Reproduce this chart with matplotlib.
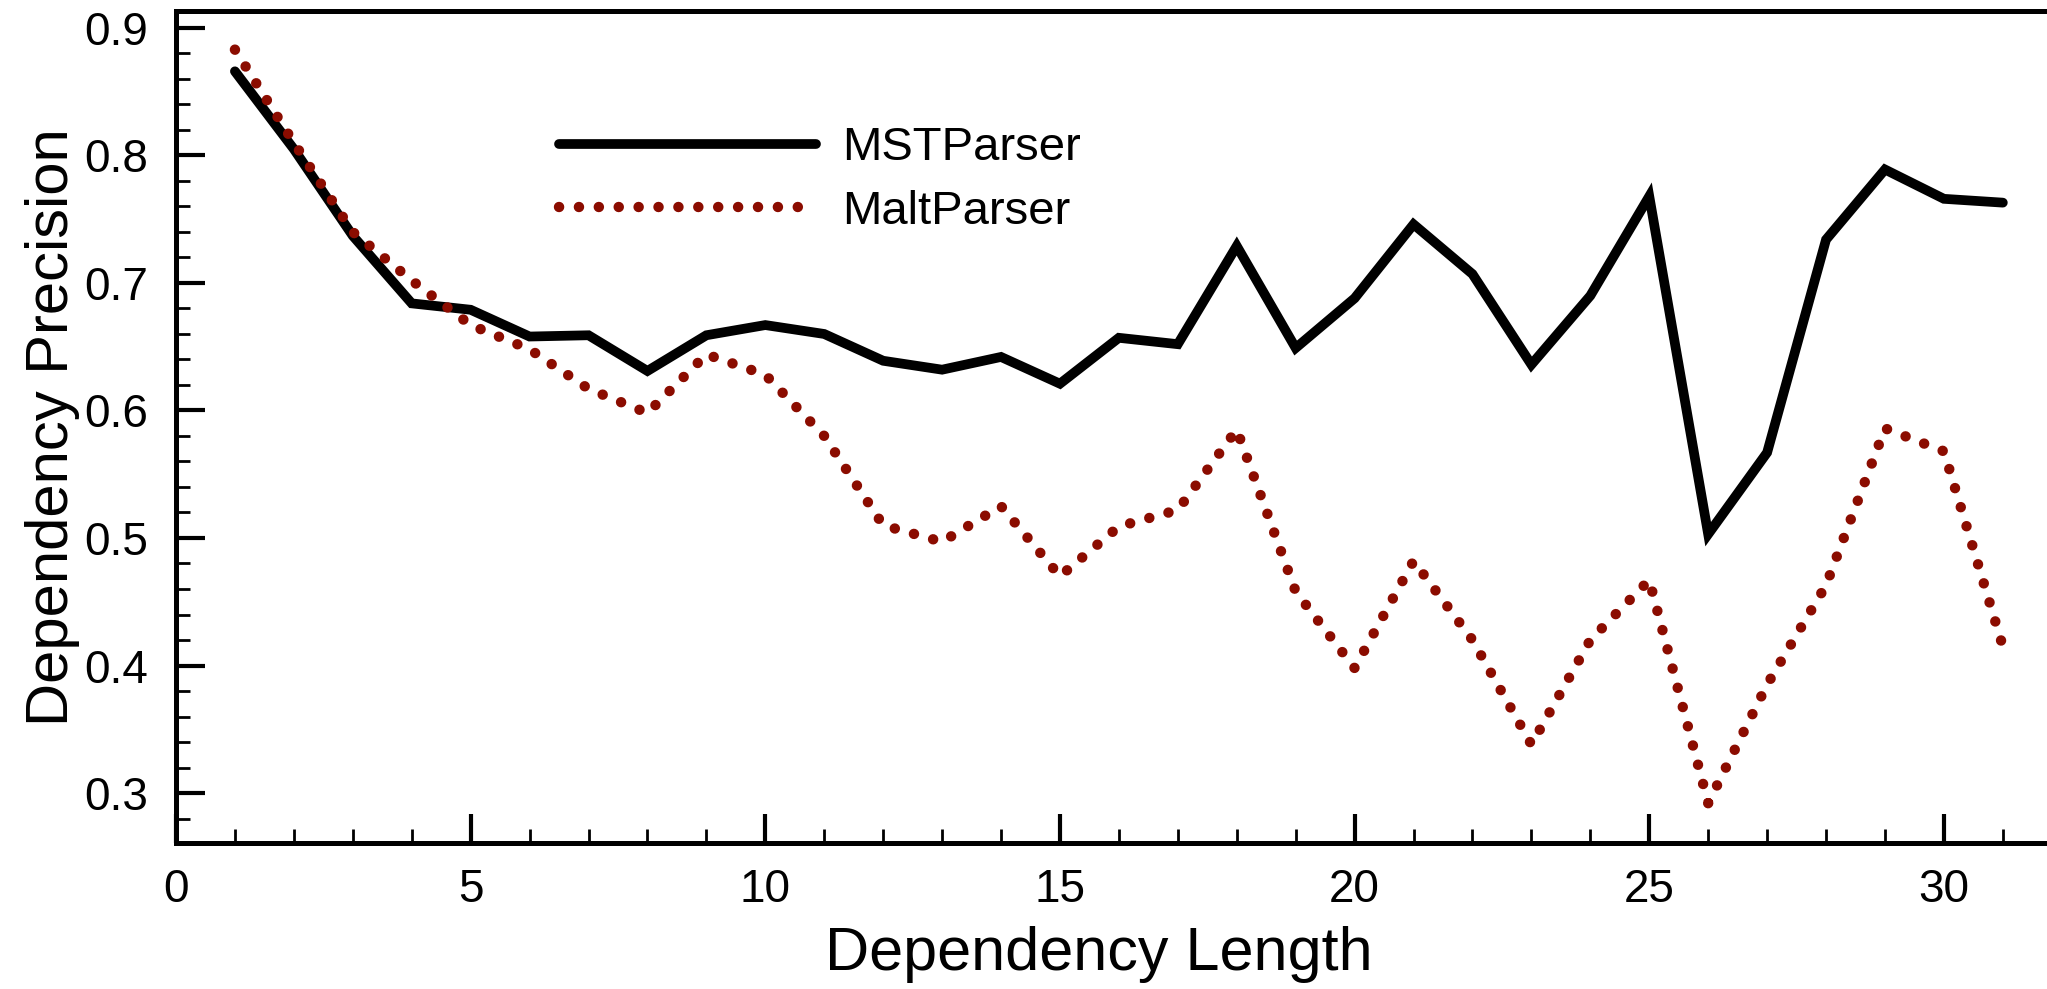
import matplotlib.pyplot as plt
import numpy as np

plt.rcParams["font.family"] = ["Liberation Sans", "DejaVu Sans"]

# dependency length 1..31
lengths = np.arange(1, 32)
mst = [0.866, 0.805, 0.737, 0.684, 0.679, 0.658, 0.659, 0.631, 0.659, 0.667,
       0.660, 0.639, 0.632, 0.642, 0.621, 0.657, 0.652, 0.729, 0.649, 0.688,
       0.746, 0.707, 0.636, 0.690, 0.768, 0.503, 0.567, 0.734, 0.789, 0.766,
       0.763]
malt = [0.883, 0.810, 0.740, 0.702, 0.667, 0.648, 0.617, 0.598, 0.644, 0.628,
        0.580, 0.510, 0.497, 0.525, 0.470, 0.509, 0.522, 0.585, 0.458, 0.398,
        0.482, 0.420, 0.338, 0.420, 0.467, 0.292, 0.385, 0.463, 0.586, 0.568,
        0.415]

fig = plt.figure(figsize=(20.47, 9.89), dpi=100)
# axes runs past the right edge (the right spine is cut off in the original)
ax = fig.add_axes([176 / 2047, 1 - 843 / 989, 32 * 58.93 / 2047, 832 / 989])

ax.plot(lengths, mst, color="black", linewidth=7, solid_capstyle="round",
        solid_joinstyle="miter", label="MSTParser")
ax.plot(lengths, malt, color="#8b0c00", linewidth=7.5, linestyle=(0, (0.01, 1.9)),
        dash_capstyle="round", label="MaltParser")

ax.set_xlim(0, 32)
ax.set_ylim(0.2608, 0.9133)
ax.set_xticks(np.arange(0, 35, 5))
ax.set_xticks(np.arange(0, 33, 1), minor=True)
ax.set_yticks([0.3, 0.4, 0.5, 0.6, 0.7, 0.8, 0.9])
ax.set_yticks(np.arange(0.28, 0.92, 0.02), minor=True)
ax.yaxis.set_major_formatter(plt.FuncFormatter(lambda v, p: f"{v:.1f}"))

for s in ax.spines.values():
    s.set_linewidth(3.6)
ax.spines["right"].set_visible(False)

ax.tick_params(which="major", direction="in", length=21, width=3.0,
               labelsize=33, pad=18)
ax.tick_params(which="minor", direction="in", length=10, width=2.0)
ax.tick_params(axis="y", which="major", pad=20)

ax.set_xlabel("Dependency Length", fontsize=44, labelpad=10)
ax.set_ylabel("Dependency Precision", fontsize=43, labelpad=3)
ax.xaxis.set_label_coords(0.4895, -0.1)

leg = ax.legend(loc="upper left", bbox_to_anchor=(0.193, 0.884), frameon=False,
                fontsize=34, handlelength=5.45, handletextpad=0.55,
                labelspacing=0.41, borderaxespad=0)

plt.savefig("out.png", dpi=100)
